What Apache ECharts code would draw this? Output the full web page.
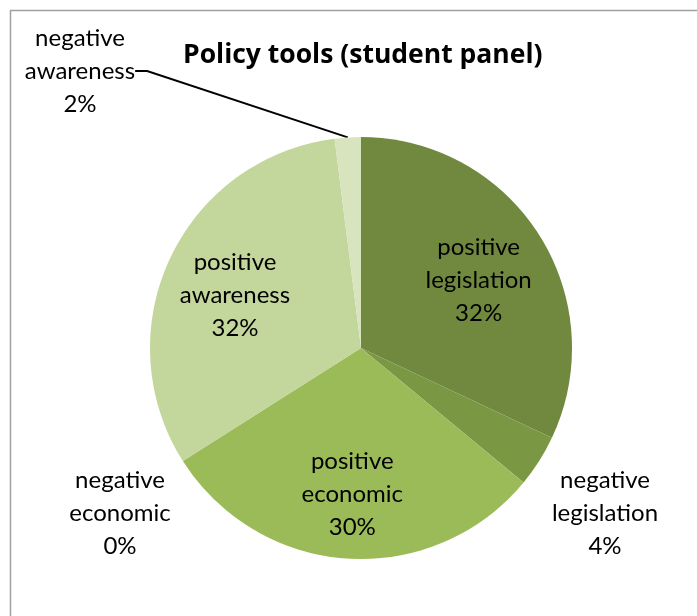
<!DOCTYPE html>
<html>
<head>
<meta charset="utf-8">
<script src="https://cdn.jsdelivr.net/npm/echarts@6/dist/echarts.min.js"></script>
<style>
  html, body { margin: 0; padding: 0; background: #fff; }
  #chart { width: 697px; height: 616px; }
</style>
</head>
<body>
<div id="chart"></div>
<script>
// Shares of policy tools mentioned by the student panel (percent)
const categories = [
  'positive legislation',
  'negative legislation',
  'positive economic',
  'negative economic',
  'positive awareness',
  'negative awareness'
];
const shares = [32, 4, 30, 0, 32, 2];
const sliceColors = ['#71893f', '#7a9743', '#9bbb59', '#b5cb86', '#c3d69b', '#d7e4bd'];

const center = [361, 348];
const radius = 211;

// Mid-angle of each slice (radians, clockwise from 12 o'clock)
const total = shares.reduce((a, b) => a + b, 0);
const midAngles = [];
let acc = 0;
shares.forEach(v => {
  midAngles.push(((acc + v / 2) / total) * Math.PI * 2);
  acc += v;
});

// Positive slices carry their labels inside; negative ones sit outside
const outsideSpots = {
  1: [605, 513],
  3: [120, 513],
  5: [80, 71]
};

const chart = echarts.init(document.getElementById('chart'));
chart.setOption({
  backgroundColor: '#fff',
  animation: false,
  title: {
    text: 'Policy tools (student panel)',
    left: 178,
    top: 37,
    textStyle: {
      fontFamily: 'Open Sans',
      fontWeight: 'bold',
      fontSize: 26.5,
      color: '#000'
    }
  },
  graphic: [{
    type: 'rect',
    shape: { x: 10.5, y: 10.5, width: 720, height: 720 },
    style: { fill: 'none', stroke: '#a0a0a0', lineWidth: 1.5 },
    silent: true
  }],
  series: [{
    type: 'pie',
    center: center,
    radius: radius,
    startAngle: 90,
    clockwise: true,
    avoidLabelOverlap: false,
    itemStyle: { borderWidth: 0 },
    label: {
      show: true,
      position: 'outside',
      fontFamily: 'Lato',
      fontSize: 24,
      lineHeight: 33,
      color: '#000',
      align: 'center',
      formatter: p => p.name.replace(' ', '\n') + '\n' + Math.round(p.percent) + '%'
    },
    labelLine: {
      show: false,
      lineStyle: { color: '#000', width: 2 },
      length: 20,
      length2: 12
    },
    labelLayout: function (params) {
      const i = params.dataIndex;
      if (outsideSpots[i]) {
        return { x: outsideSpots[i][0], y: outsideSpots[i][1], align: 'center', verticalAlign: 'middle' };
      }
      const a = midAngles[i];
      const r = radius * 0.66;
      return {
        x: center[0] + r * Math.sin(a),
        y: center[1] - r * Math.cos(a) + 7,
        align: 'center',
        verticalAlign: 'middle'
      };
    },
    data: categories.map((name, i) => ({
      name: name,
      value: shares[i],
      itemStyle: { color: sliceColors[i] },
      labelLine: { show: i === 5 }
    }))
  }]
});
</script>
</body>
</html>
